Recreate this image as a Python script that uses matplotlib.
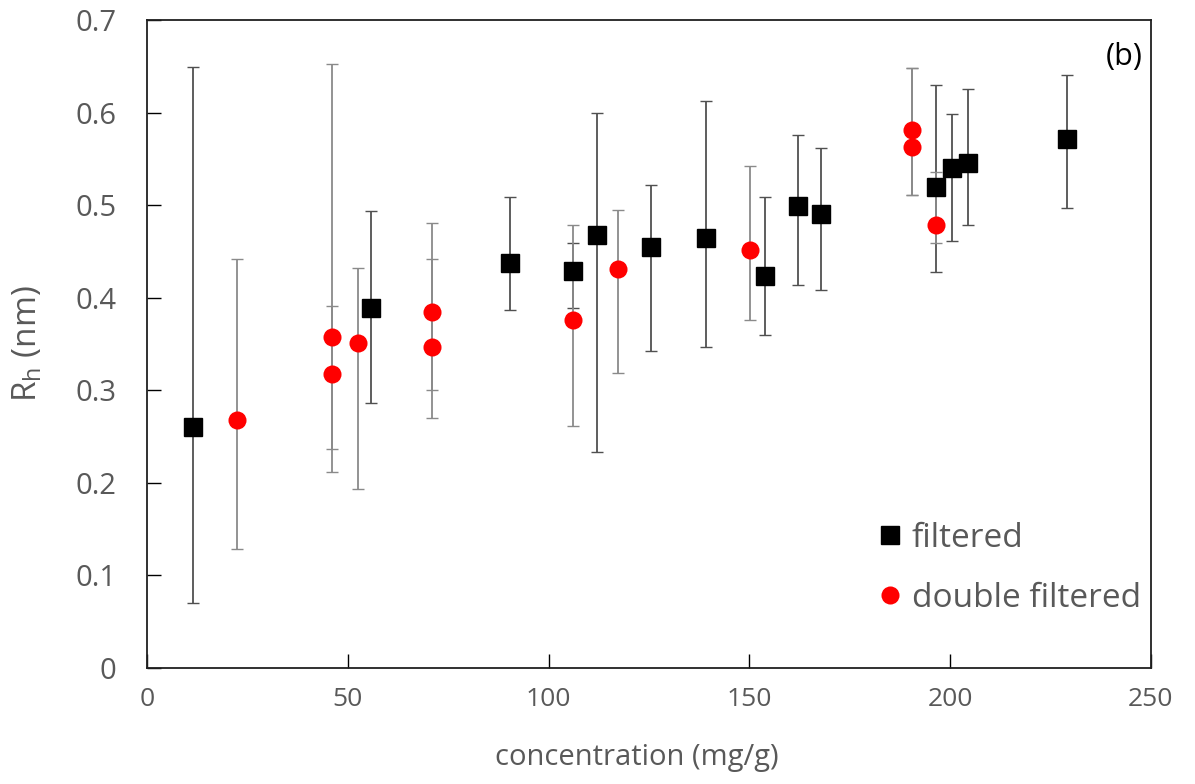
import matplotlib
matplotlib.use("Agg")
import matplotlib.pyplot as plt
import numpy as np

# filtered (black squares)
filt_x = [11.5, 55.8, 90.4, 106.2, 112.2, 125.5, 139.3, 154.0, 162.1, 167.9, 196.4, 200.4, 204.4, 229.2]
filt_y = [0.260, 0.389, 0.438, 0.429, 0.468, 0.455, 0.465, 0.423, 0.499, 0.490, 0.520, 0.540, 0.546, 0.571]
filt_lo = [0.070, 0.286, 0.387, 0.389, 0.233, 0.342, 0.347, 0.360, 0.414, 0.408, 0.428, 0.461, 0.478, 0.497]
filt_hi = [0.649, 0.494, 0.509, 0.459, 0.600, 0.522, 0.613, 0.509, 0.576, 0.562, 0.630, 0.598, 0.625, 0.641]

# double filtered (red circles)
dbl_x = [22.5, 46.0, 46.0, 52.5, 71.0, 71.0, 106.2, 117.3, 150.3, 190.6, 190.6, 196.4]
dbl_y = [0.268, 0.358, 0.318, 0.351, 0.385, 0.347, 0.376, 0.431, 0.452, 0.581, 0.563, 0.479]
dbl_lo = [0.128, 0.212, 0.237, 0.193, 0.270, 0.300, 0.261, 0.319, 0.376, 0.511, 0.511, 0.459]
dbl_hi = [0.442, 0.652, 0.391, 0.432, 0.481, 0.442, 0.479, 0.495, 0.542, 0.648, 0.648, 0.536]

x_ticks = [0, 50, 100, 150, 200, 250]
y_ticks = [0, 0.1, 0.2, 0.3, 0.4, 0.5, 0.6, 0.7]

plt.rcParams['font.family'] = ['Open Sans', 'DejaVu Sans']
grey = '#595959'

fig = plt.figure(figsize=(11.95, 7.84), dpi=100)
ax = fig.add_axes([0.123, 0.148, 0.840, 0.8265])

fx = np.array(filt_x); fy = np.array(filt_y)
dx = np.array(dbl_x); dy = np.array(dbl_y)

ax.errorbar(fx, fy, yerr=[fy - np.array(filt_lo), np.array(filt_hi) - fy],
            fmt='none', ecolor='#505050', elinewidth=1.3, capsize=4, capthick=1.0, zorder=2)
ax.errorbar(dx, dy, yerr=[dy - np.array(dbl_lo), np.array(dbl_hi) - dy],
            fmt='none', ecolor='#8a8a8a', elinewidth=1.3, capsize=4, capthick=1.0, zorder=2)

ax.plot(fx, fy, linestyle='none', marker='s', markersize=12.7, color='black',
        label='filtered', zorder=4)
ax.plot(dx, dy, linestyle='none', marker='o', markersize=13, color='#ff0000',
        markeredgewidth=0, label='double filtered', zorder=3)

ax.set_xlim(0, 250)
ax.set_ylim(0, 0.7)
ax.set_xticks(x_ticks)
ax.set_yticks(y_ticks)
ax.set_xticklabels([str(v) for v in x_ticks])
ax.set_yticklabels(['0'] + [f'{v:.1f}' for v in y_ticks[1:]])

ax.tick_params(axis='both', direction='in', length=10, width=1.0, color='black',
               labelcolor=grey)
ax.tick_params(axis='y', pad=22, labelsize=21)
ax.tick_params(axis='x', pad=14, labelsize=19)
for s in ax.spines.values():
    s.set_color('#202020')
    s.set_linewidth(1.3)

ax.set_xlabel('concentration (mg/g)', fontsize=21, color=grey, labelpad=22, x=0.488)
ax.set_ylabel(r'R$_\mathregular{h}$ (nm)', fontsize=24, color=grey, labelpad=22)

ax.text(0.992, 0.943, '(b)', transform=ax.transAxes, ha='right', va='center',
        fontsize=22, color='black')

leg = ax.legend(loc='lower right', bbox_to_anchor=(1.02, 0.036), frameon=False,
                fontsize=24, handletextpad=0.15, handlelength=1.0, labelspacing=0.8,
                labelcolor=grey, markerscale=1.0)

fig.savefig('out.png', dpi=100)
